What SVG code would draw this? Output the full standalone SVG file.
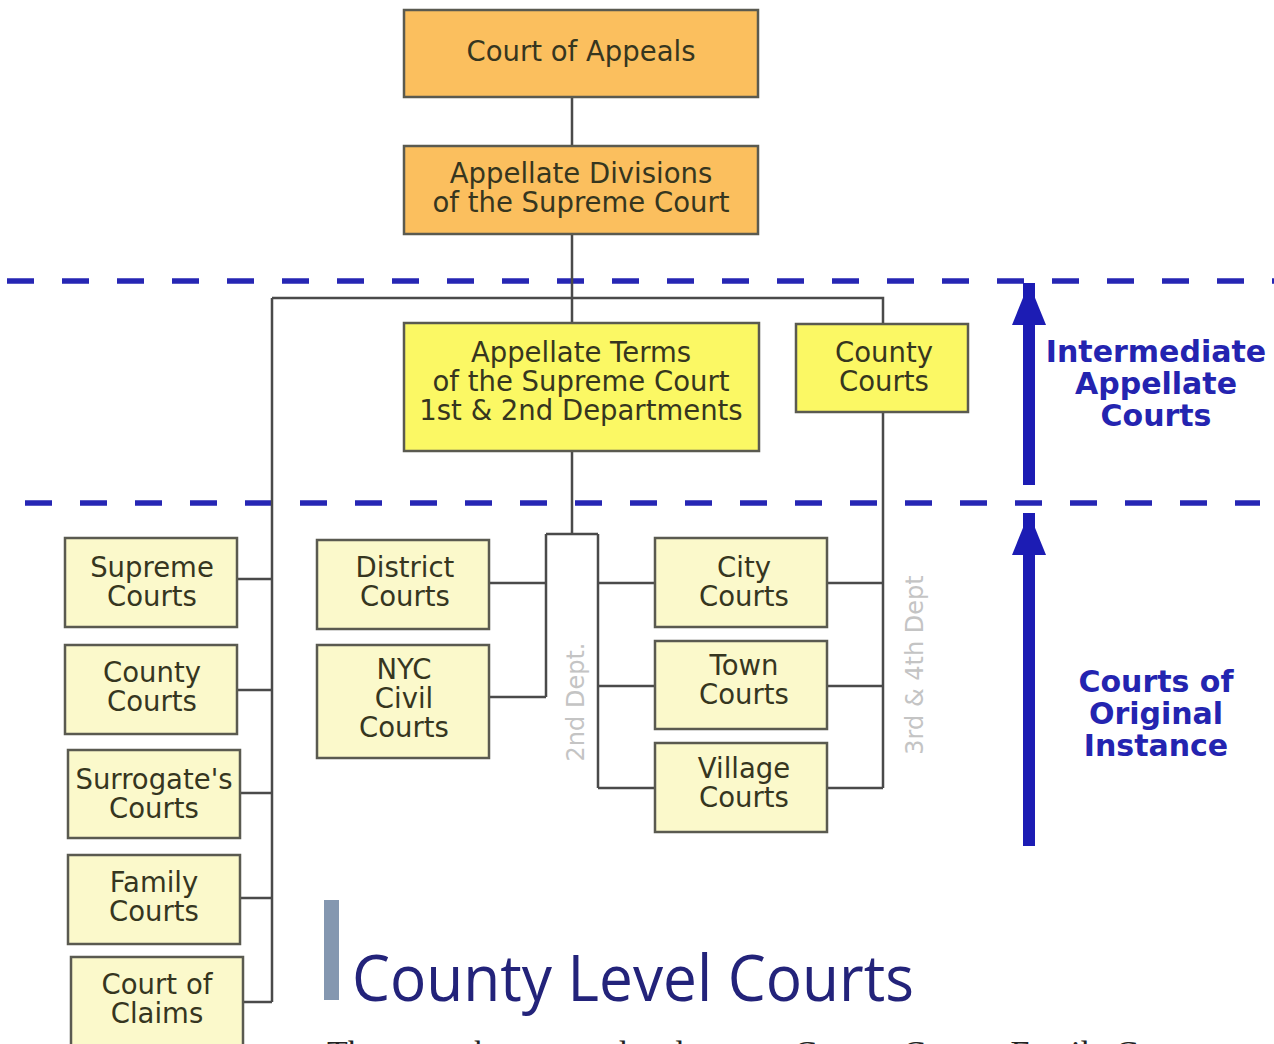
<svg xmlns="http://www.w3.org/2000/svg" width="1274" height="1044" viewBox="0 0 1274 1044">
<defs>
<style>
.box{stroke:#5a5a50;stroke-width:2.5}
.top{fill:#FBBF5E}
.mid{fill:#FBF864}
.low{fill:#FBF9CB}
.t{font-family:"DejaVu Sans",Verdana,sans-serif;font-size:27.5px;fill:#36361f;text-anchor:middle}
.c{fill:none;stroke:#4a4a4a;stroke-width:2.5}
.dash{fill:none;stroke:#2626B4;stroke-width:5.5;stroke-dasharray:27 28}
.lab{font-family:"DejaVu Sans",Verdana,sans-serif;font-weight:bold;font-size:30px;fill:#2424B0;text-anchor:middle}
.dept{font-family:"DejaVu Sans",Verdana,sans-serif;font-size:24px;fill:#c4c4c4;text-anchor:middle}
</style>
<marker id="ah" markerUnits="userSpaceOnUse" markerWidth="44" markerHeight="34" refX="42" refY="17" orient="auto" viewBox="0 0 44 34">
<polygon points="0,0 42,17 0,34" fill="#1C1CB4"/>
</marker>
</defs>
<rect width="1274" height="1044" fill="#fff"/>

<g id="dividers">
<line class="dash" x1="7" y1="281" x2="1274" y2="281"/>
<line class="dash" x1="25" y1="503" x2="1260" y2="503"/>
</g>

<g id="connectors">
<path class="c" d="M572,97 V146 M572,234 V323 M272,298 H883 V323 M272,298 V1002 M883,412 V788"/>
<path class="c" d="M572,451 V534 M546,534 H598 M546,534 V697 M598,534 V788"/>
<path class="c" d="M489,583 H546 M489,697 H546 M598,583 H655 M598,686 H655 M598,788 H655"/>
<path class="c" d="M827,583 H883 M827,686 H883 M827,788 H883"/>
<path class="c" d="M237,579 H272 M237,690 H272 M240,793 H272 M240,898 H272 M243,1002 H272"/>
</g>

<g id="court-of-appeals"><rect class="box top" x="404" y="10" width="354" height="87"/><text class="t" x="581" y="61">Court of Appeals</text></g>
<g id="appellate-divisions"><rect class="box top" x="404" y="146" width="354" height="88"/><text class="t" x="581" y="183">Appellate Divisions</text><text class="t" x="581" y="212">of the Supreme Court</text></g>
<g id="appellate-terms"><rect class="box mid" x="404" y="323" width="355" height="128"/><text class="t" x="581" y="362">Appellate Terms</text><text class="t" x="581" y="391">of the Supreme Court</text><text class="t" x="581" y="420">1st &amp; 2nd Departments</text></g>
<g id="county-courts-appellate"><rect class="box mid" x="796" y="324" width="172" height="88"/><text class="t" x="884" y="362">County</text><text class="t" x="884" y="391">Courts</text></g>

<g id="supreme-courts"><rect class="box low" x="65" y="538" width="172" height="89"/><text class="t" x="152" y="577">Supreme</text><text class="t" x="152" y="606">Courts</text></g>
<g id="county-courts"><rect class="box low" x="65" y="645" width="172" height="89"/><text class="t" x="152" y="682">County</text><text class="t" x="152" y="711">Courts</text></g>
<g id="surrogates-courts"><rect class="box low" x="68" y="750" width="172" height="88"/><text class="t" x="154" y="789">Surrogate's</text><text class="t" x="154" y="818">Courts</text></g>
<g id="family-courts"><rect class="box low" x="68" y="855" width="172" height="89"/><text class="t" x="154" y="892">Family</text><text class="t" x="154" y="921">Courts</text></g>
<g id="court-of-claims"><rect class="box low" x="71" y="957" width="172" height="92"/><text class="t" x="157" y="994">Court of</text><text class="t" x="157" y="1023">Claims</text></g>

<g id="district-courts"><rect class="box low" x="317" y="540" width="172" height="89"/><text class="t" x="405" y="577">District</text><text class="t" x="405" y="606">Courts</text></g>
<g id="nyc-civil-courts"><rect class="box low" x="317" y="645" width="172" height="113"/><text class="t" x="404" y="679">NYC</text><text class="t" x="404" y="708">Civil</text><text class="t" x="404" y="737">Courts</text></g>
<g id="city-courts"><rect class="box low" x="655" y="538" width="172" height="89"/><text class="t" x="744" y="577">City</text><text class="t" x="744" y="606">Courts</text></g>
<g id="town-courts"><rect class="box low" x="655" y="641" width="172" height="88"/><text class="t" x="744" y="675">Town</text><text class="t" x="744" y="704">Courts</text></g>
<g id="village-courts"><rect class="box low" x="655" y="743" width="172" height="89"/><text class="t" x="744" y="778">Village</text><text class="t" x="744" y="807">Courts</text></g>

<g id="dept-labels">
<text class="dept" transform="translate(576,702) rotate(-90)" dy="0.35em">2nd Dept.</text>
<text class="dept" transform="translate(915,665) rotate(-90)" dy="0.35em">3rd &amp; 4th Dept</text>
</g>

<g id="level-arrows">
<line x1="1029" y1="485" x2="1029" y2="283" stroke="#1C1CB4" stroke-width="12" marker-end="url(#ah)"/>
<line x1="1029" y1="846" x2="1029" y2="513" stroke="#1C1CB4" stroke-width="12" marker-end="url(#ah)"/>
<text class="lab" x="1156" y="362">Intermediate</text>
<text class="lab" x="1156" y="394">Appellate</text>
<text class="lab" x="1156" y="426">Courts</text>
<text class="lab" x="1156" y="692">Courts of</text>
<text class="lab" x="1156" y="724">Original</text>
<text class="lab" x="1156" y="756">Instance</text>
</g>

<g id="title">
<rect x="324" y="900" width="15" height="100" fill="#8497B0"/>
<text x="352" y="1001" font-family="'Open Sans','Noto Sans',sans-serif" font-size="64" fill="#23237A" textLength="562" lengthAdjust="spacingAndGlyphs">County Level Courts</text>
<text x="327" y="1064" font-family="'Liberation Serif',serif" font-size="34" fill="#222">There are the county-level courts: County Courts, Family Courts</text>
</g>
</svg>
